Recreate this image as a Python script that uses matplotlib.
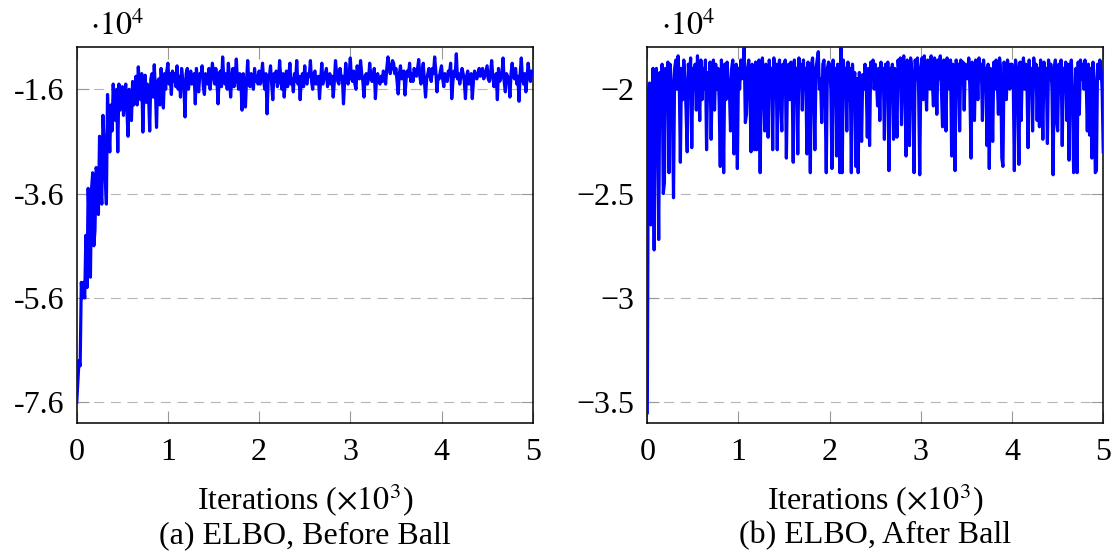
import numpy as np
import matplotlib
matplotlib.use("Agg")
import matplotlib.pyplot as plt

# ── data (ELBO in units of 10^4, one value every 12.5 iterations) ───────────
elbo_before = [
    # 0.0 - 0.5
    -7.6, -7.2, -6.8, -6.9, -5.3, -5.6, -5.3, -5.6, -4.4, -5.4,
    -3.5, -4.2, -5.2, -3.5, -3.2, -4.6, -4.3, -3.1, -3.2, -4.0,
    -2.5, -3.4, -3.8, -2.1, -2.6, -3.3, -3.8, -1.7, -2.3, -2.8,
    -1.9, -2.4, -1.5, -2.0, -2.2, -1.6, -2.8, -1.5, -2.0, -1.65,
    # 0.5 - 1.0
    -1.55, -2.1, -1.7, -1.5, -2.0, -2.5, -1.6, -1.75, -2.2, -1.45,
    -1.9, -1.6, -1.35, -1.9, -1.17, -1.55, -1.8, -1.3, -2.42, -1.6,
    -1.33, -1.85, -1.5, -1.7, -2.4, -1.4, -1.3, -1.75, -1.13, -1.6,
    -2.33, -1.45, -1.4, -1.9, -1.2, -1.55, -1.96, -1.3, -1.6, -1.25,
    # 1.0 - 1.5
    -1.1, -1.5, -1.3, -1.7, -1.25, -1.45, -1.3, -1.55, -1.15, -1.6,
    -1.35, -1.75, -1.2, -1.4, -1.55, -2.13, -1.3, -1.2, -1.6, -1.4,
    -1.25, -1.5, -1.45, -1.3, -1.88, -1.2, -1.5, -1.65, -1.3, -1.35,
    -1.15, -1.55, -1.7, -1.3, -1.45, -1.5, -1.2, -1.6, -1.35, -1.1,
    # 1.5 - 2.0
    -1.3, -1.5, -1.2, -1.45, -1.88, -1.3, -1.25, -1.55, -0.98, -1.4,
    -1.5, -1.3, -1.6, -1.1, -1.35, -1.75, -1.4, -1.2, -1.55, -1.35,
    -1.02, -1.45, -1.6, -1.3, -1.45, -2.0, -1.3, -1.5, -1.94, -1.4,
    -1.05, -1.5, -1.55, -1.3, -1.4, -1.6, -1.2, -1.45, -1.35, -1.5,
    # 2.0 - 2.5
    -1.25, -1.5, -1.35, -1.1, -1.45, -1.6, -1.3, -2.07, -1.4, -1.35,
    -1.15, -1.5, -1.8, -1.3, -1.45, -1.25, -1.55, -1.45, -1.05, -1.4,
    -1.6, -1.3, -1.75, -1.4, -1.25, -1.55, -1.35, -1.1, -1.5, -1.4,
    -1.65, -1.3, -1.45, -1.05, -1.5, -1.35, -1.8, -1.4, -1.3, -1.55,
    # 2.5 - 3.0
    -1.15, -1.45, -1.5, -1.3, -1.35, -1.05, -1.45, -1.6, -1.3, -1.25,
    -1.5, -1.45, -1.35, -1.78, -1.4, -1.1, -1.5, -1.4, -1.3, -1.2,
    -1.55, -1.4, -1.3, -1.5, -1.35, -1.75, -1.45, -1.05, -1.3, -1.45,
    -1.5, -1.2, -1.4, -1.35, -1.88, -1.45, -1.1, -1.35, -1.5, -1.3,
    # 3.0 - 3.5
    -1.0, -1.4, -1.45, -1.25, -1.5, -1.6, -1.15, -1.35, -1.4, -1.05,
    -1.3, -1.45, -1.75, -1.35, -1.3, -1.5, -1.4, -1.1, -1.35, -1.45,
    -1.4, -1.2, -1.78, -1.4, -1.3, -1.45, -1.5, -1.35, -1.45, -1.25,
    -1.4, -1.5, -1.2, -0.98, -1.15, -1.3, -1.2, -1.05, -1.1, -1.3,
    # 3.5 - 4.0
    -1.2, -1.45, -1.69, -1.3, -1.15, -1.4, -1.3, -1.25, -1.71, -1.4,
    -1.25, -1.35, -1.1, -1.45, -1.3, -1.45, -1.2, -1.3, -1.35, -1.2,
    -1.03, -1.35, -1.5, -1.25, -1.1, -1.45, -1.75, -1.4, -1.3, -1.2,
    -1.35, -1.45, -1.2, -1.3, -0.98, -1.25, -1.65, -1.35, -1.4, -1.25,
    # 4.0 - 4.5
    -1.15, -1.4, -1.55, -1.3, -1.35, -1.45, -1.25, -1.3, -1.1, -1.78,
    -1.45, -1.25, -1.35, -0.92, -1.4, -1.3, -1.5, -1.35, -1.2, -1.3,
    -1.45, -1.78, -1.35, -1.25, -1.5, -1.4, -1.3, -1.78, -1.45, -1.25,
    -1.35, -1.4, -1.3, -1.2, -1.35, -1.3, -1.2, -1.4, -1.35, -1.25,
    # 4.5 - 5.0
    -1.15, -1.4, -1.45, -1.3, -1.05, -1.35, -1.55, -1.4, -1.3, -1.8,
    -1.2, -1.45, -1.4, -1.3, -1.0, -1.45, -1.65, -1.3, -1.35, -1.4,
    -1.75, -1.3, -1.1, -1.35, -1.4, -1.2, -1.5, -1.35, -1.83, -1.3,
    -1.0, -1.4, -1.5, -1.3, -1.65, -1.4, -1.1, -1.3, -1.45, -1.25,
    -1.3,
]

elbo_after = [
    # 0.0 - 0.5
    -3.55, -2.0, -1.97, -2.65, -2.1, -1.9, -2.77, -1.95, -1.9, -2.2,
    -2.72, -1.92, -2.0, -1.88, -2.5, -2.45, -1.9, -2.05, -1.87, -2.4,
    -1.88, -1.95, -2.1, -2.52, -1.9, -1.86, -2.0, -1.84, -1.95, -2.35,
    -1.9, -2.05, -1.86, -1.95, -2.1, -2.3, -1.88, -1.95, -1.85, -2.28,
    # 0.5 - 1.0
    -1.9, -2.0, -1.88, -2.1, -1.84, -1.95, -2.15, -1.86, -2.05, -1.9,
    -2.0, -1.86, -2.29, -1.92, -2.05, -1.87, -2.24, -1.95, -1.86, -2.1,
    -1.88, -2.0, -1.9, -2.05, -2.37, -1.86, -1.95, -2.40, -1.88, -2.05,
    -1.87, -1.95, -2.0, -2.2, -1.9, -1.86, -2.31, -1.95, -1.88, -2.38,
    # 1.0 - 1.5
    -1.9, -2.0, -1.86, -1.95, -1.88, -1.8, -2.16, -2.12, -1.9, -1.86,
    -2.0, -2.30, -1.88, -1.95, -2.29, -1.87, -2.29, -1.9, -1.86, -2.40,
    -1.92, -1.85, -2.0, -2.2, -1.88, -1.95, -2.23, -1.86, -2.0, -1.9,
    -2.29, -1.85, -1.95, -1.88, -2.29, -1.9, -1.86, -2.05, -2.2, -1.88,
    # 1.5 - 2.0
    -1.9, -1.86, -2.33, -1.95, -1.88, -2.05, -1.87, -1.95, -2.35, -1.86,
    -2.0, -1.9, -2.31, -1.85, -1.95, -1.88, -2.1, -1.86, -2.0, -1.9,
    -2.31, -1.87, -1.95, -2.40, -1.88, -1.85, -2.0, -2.29, -1.9, -1.86,
    -1.82, -2.0, -1.95, -2.16, -1.88, -1.86, -2.05, -2.40, -1.9, -1.87,
    # 2.0 - 2.5
    -1.88, -2.0, -2.38, -1.86, -1.95, -1.9, -2.32, -1.88, -2.0, -2.40,
    -1.8, -2.40, -1.86, -1.95, -1.9, -2.2, -1.87, -2.05, -1.9, -2.40,
    -1.88, -2.0, -1.92, -2.37, -1.95, -2.40, -1.92, -2.05, -2.25, -1.93,
    -2.0, -1.88, -1.95, -2.23, -1.9, -2.27, -1.87, -1.95, -1.86, -2.0,
    # 2.5 - 3.0
    -1.88, -1.95, -2.08, -1.9, -2.15, -1.87, -1.95, -1.9, -2.24, -1.88,
    -2.0, -1.87, -2.39, -1.9, -1.95, -1.88, -2.24, -1.9, -2.0, -2.23,
    -1.86, -1.95, -1.85, -2.17, -1.88, -1.84, -2.0, -2.32, -1.86, -1.95,
    -2.27, -1.85, -1.9, -2.0, -2.40, -1.86, -1.95, -1.85, -2.0, -2.41,
    # 3.0 - 3.5
    -1.9, -1.85, -2.05, -1.84, -1.95, -2.1, -1.86, -1.9, -2.0, -1.84,
    -1.95, -2.08, -1.85, -1.9, -2.12, -1.86, -1.95, -1.84, -2.0, -2.18,
    -1.86, -1.95, -2.2, -1.85, -1.9, -2.0, -1.86, -2.32, -1.88, -1.95,
    -2.39, -1.86, -2.0, -1.88, -2.2, -1.86, -1.95, -1.87, -2.1, -1.88,
    # 3.5 - 4.0
    -1.9, -1.95, -1.85, -2.0, -2.33, -1.87, -1.95, -2.15, -1.86, -1.9,
    -2.05, -1.85, -1.95, -1.88, -2.15, -1.86, -2.0, -1.9, -2.27, -1.88,
    -2.38, -1.9, -1.95, -2.25, -1.87, -2.0, -1.86, -1.95, -2.12, -1.85,
    -1.9, -2.33, -2.37, -1.87, -1.95, -2.05, -1.86, -1.9, -2.0, -1.88,
    # 4.0 - 4.5
    -1.88, -1.95, -2.39, -1.86, -1.9, -2.0, -2.36, -1.87, -2.15, -1.9,
    -1.85, -2.0, -1.88, -1.95, -2.28, -1.86, -2.0, -1.9, -2.2, -1.85,
    -1.95, -1.88, -2.15, -1.9, -2.18, -1.86, -1.95, -2.24, -1.87, -2.0,
    -1.9, -2.26, -1.86, -1.95, -1.88, -2.0, -2.41, -1.9, -1.86, -2.15,
    # 4.5 - 5.0
    -2.2, -1.88, -1.95, -1.86, -2.27, -1.9, -2.0, -1.87, -2.15, -1.88,
    -2.34, -1.9, -1.86, -2.0, -2.40, -2.38, -1.9, -2.40, -1.87, -2.12,
    -1.86, -1.95, -1.88, -2.0, -1.86, -1.95, -2.2, -1.88, -2.22, -1.9,
    -2.33, -1.87, -1.95, -2.40, -2.39, -1.88, -1.95, -1.86, -1.9, -2.0,
    -2.3,
]

yticks_before = [-7.6, -5.6, -3.6, -1.6]
ytick_labels_before = ["-7.6", "-5.6", "-3.6", "-1.6"]
yticks_after = [-3.5, -3.0, -2.5, -2.0]
ytick_labels_after = ["\u22123.5", "\u22123", "\u22122.5", "\u22122"]
xticks = [0, 1, 2, 3, 4, 5]
captions = ["(a) ELBO, Before Ball", "(b) ELBO, After Ball"]

# ── style ────────────────────────────────────────────────────────────────────
plt.rcParams["font.family"] = ["Liberation Serif", "DejaVu Serif"]
plt.rcParams["mathtext.fontset"] = "stix"
FS = 23

fig = plt.figure(figsize=(11.17, 5.55), dpi=100)
ax_a = fig.add_axes([0.0687, 0.2384, 0.4082, 0.6764])
ax_b = fig.add_axes([0.5795, 0.2384, 0.4082, 0.6764])

panels = [
    (ax_a, elbo_before, (-7.99, -0.795), yticks_before, ytick_labels_before),
    (ax_b, elbo_after, (-3.598, -1.799), yticks_after, ytick_labels_after),
]

for (ax, vals, ylim, yt, ytl), cap in zip(panels, captions):
    vals = np.array(vals)
    iters = np.linspace(0, 5, len(vals))
    ax.plot(iters, vals, color="#0000ff", lw=2.3, zorder=3)

    ax.set_xlim(0, 5)
    ax.set_ylim(*ylim)
    ax.set_xticks(xticks)
    ax.set_xticklabels([str(t) for t in xticks])
    ax.set_yticks(yt)
    ax.set_yticklabels(ytl)

    ax.grid(axis="y", color="#b5b5b5", lw=0.8, ls=(0, (9, 6)), zorder=1)
    ax.tick_params(direction="in", length=8.5, width=0.8, color="#999999",
                   top=True, right=True, labelsize=FS)
    ax.tick_params(axis="x", pad=11)
    ax.tick_params(axis="y", pad=9)
    for sp in ax.spines.values():
        sp.set_linewidth(1.1)
        sp.set_color("black")

    ax.set_xlabel(r"Iterations ($\times10^3$)", fontsize=FS, labelpad=11)
    ax.text(0.5, -0.302, cap, transform=ax.transAxes, ha="center",
            va="center", fontsize=FS)
    ax.text(0.03, 1.014, r"$\cdot10^4$", transform=ax.transAxes, ha="left",
            va="bottom", fontsize=FS)

fig.savefig("out.png", dpi=100)
